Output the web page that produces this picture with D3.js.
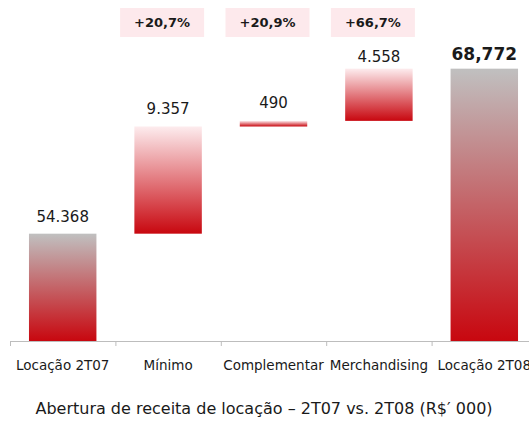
<html>
<head>
<meta charset="utf-8">
<script src="https://cdn.jsdelivr.net/npm/d3@7"></script>
<style>
  body { margin: 0; background: #fff; }
  text { font-family: "DejaVu Sans", Verdana, sans-serif; }
</style>
</head>
<body>
<div class="chart"></div>
<script>
  // waterfall: receita de locação 2T07 -> 2T08
  var categories = ["Locação 2T07", "Mínimo", "Complementar", "Merchandising", "Locação 2T08"];
  var values = [54368, 9357, 490, 4558, 68772];
  var valueLabels = ["54.368", "9.357", "490", "4.558", "68,772"];
  var kinds = ["total", "step", "step", "step", "total"];
  var growth = ["", "+20,7%", "+20,9%", "+66,7%", ""];
  var title = "Abertura de receita de locação – 2T07 vs. 2T08 (R$\u2032 000)";

  var W = 529, H = 421;
  var svg = d3.select(".chart").append("svg")
    .attr("width", W).attr("height", H);

  var defs = svg.append("defs");
  function grad(id, top, bottom) {
    var g = defs.append("linearGradient").attr("id", id)
      .attr("x1", 0).attr("y1", 0).attr("x2", 0).attr("y2", 1);
    g.append("stop").attr("offset", "0%").attr("stop-color", top);
    g.append("stop").attr("offset", "100%").attr("stop-color", bottom);
  }
  grad("gTotal", "#c0c0c0", "#c8070f");
  grad("gStep", "#fdecee", "#c8070f");

  var x = d3.scaleBand().domain(categories).range([10, 537]).paddingInner(0.36).paddingOuter(0.18);
  var y = d3.scaleLinear().domain([45000, 70000]).range([341, 54.6]);

  // running bases
  var bars = [];
  var run = 0;
  for (var i = 0; i < categories.length; i++) {
    var lo, hi;
    if (kinds[i] == "total") { lo = 45000; hi = values[i]; run = values[i]; }
    else { lo = run; hi = run + values[i]; run = hi; }
    bars.push({ cat: categories[i], lo: lo, hi: hi, kind: kinds[i], label: valueLabels[i], g: growth[i] });
  }

  svg.selectAll("rect.bar").data(bars).enter().append("rect")
    .attr("class", "bar")
    .attr("x", function(d){ return x(d.cat); })
    .attr("width", x.bandwidth())
    .attr("y", function(d){ return y(d.hi); })
    .attr("height", function(d){ return y(d.lo) - y(d.hi); })
    .attr("fill", function(d){ return d.kind == "total" ? "url(#gTotal)" : "url(#gStep)"; });

  var offs = [12, 12, 13, 7, 9];
  svg.selectAll("text.val").data(bars).enter().append("text")
    .attr("class", "val")
    .attr("x", function(d){ return x(d.cat) + x.bandwidth() / 2; })
    .attr("y", function(d, i){ return y(d.hi) - offs[i]; })
    .attr("text-anchor", "middle")
    .attr("font-size", function(d, i){ return i == 4 ? 17 : 15; })
    .attr("font-weight", function(d, i){ return i == 4 ? "bold" : "normal"; })
    .attr("fill", "#1a1a1a")
    .text(function(d){ return d.label; });

  // growth boxes
  var gb = svg.selectAll("g.gr").data(bars.filter(function(d){ return d.g; })).enter().append("g")
    .attr("class", "gr")
    .attr("transform", function(d){ return "translate(" + (x(d.cat) + x.bandwidth() / 2 - 6) + ",0)"; });
  gb.append("rect").attr("x", -42).attr("y", 8).attr("width", 84).attr("height", 29).attr("fill", "#fde9ec");
  gb.append("text").attr("x", 0).attr("y", 27).attr("text-anchor", "middle")
    .attr("font-size", 13).attr("font-weight", "bold").attr("fill", "#1a1a1a")
    .text(function(d){ return d.g; });

  // axis
  var axis = svg.append("g").attr("transform", "translate(0,341)")
    .call(d3.axisBottom(x).tickSize(0).tickPadding(19));
  axis.select(".domain").attr("stroke", "#bdbdbd").attr("d", "M10,0.5H529");
  axis.selectAll("text").attr("font-size", 13.5).attr("fill", "#1a1a1a")
    .style("font-family", '"DejaVu Sans", Verdana, sans-serif');
  var step = x.step();
  var tk = d3.range(0, categories.length + 1).map(function(i){ return 10.5 + i * step; });
  svg.selectAll("line.tk").data(tk).enter().append("line")
    .attr("x1", function(d){ return d; }).attr("x2", function(d){ return d; })
    .attr("y1", 341).attr("y2", 346).attr("stroke", "#bdbdbd");

  svg.append("text").attr("x", 264).attr("y", 414).attr("text-anchor", "middle")
    .attr("font-size", 16).attr("fill", "#1a1a1a").text(title);
</script>
</body>
</html>
